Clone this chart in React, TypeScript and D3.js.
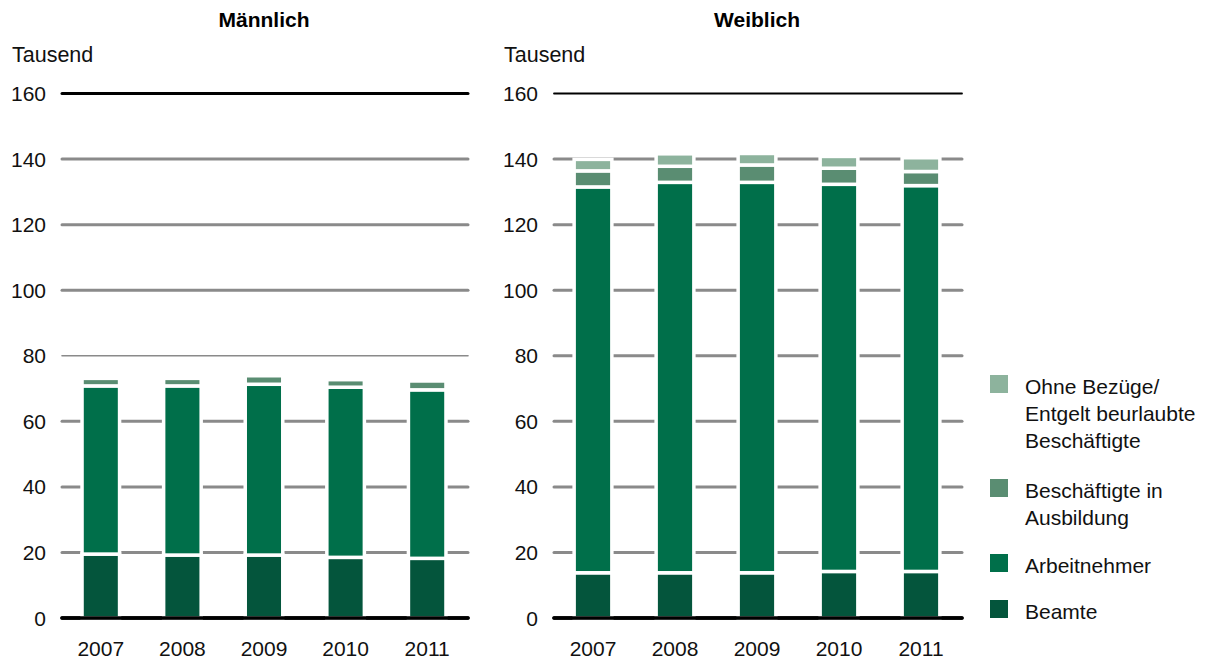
import React from "react";
import * as d3 from "d3";

const years = ["2007", "2008", "2009", "2010", "2011"];
const seriesKeys = ["beamte", "arbeitnehmer", "ausbildung", "ohne"];
const seriesColors = ["#04553c", "#006f4a", "#5a8d72", "#8db39d"];
const legendLabels = [
  ["Ohne Bezüge/", "Entgelt beurlaubte", "Beschäftigte"],
  ["Beschäftigte in", "Ausbildung"],
  ["Arbeitnehmer"],
  ["Beamte"],
];
const legendColors = ["#8db39d", "#5a8d72", "#006f4a", "#04553c"];

const maleBeamte = [19.5, 19.2, 19.2, 18.5, 18.2];
const maleArbeitnehmer = [51.3, 51.6, 52.1, 51.9, 51.4];
const maleAusbildung = [2.3, 2.3, 2.6, 2.3, 2.7];
const maleOhne = [0, 0, 0, 0, 0];

const femaleBeamte = [13.8, 13.8, 13.8, 14.2, 14.2];
const femaleArbeitnehmer = [117.7, 119.1, 119.1, 118.1, 117.7];
const femaleAusbildung = [4.9, 4.9, 5.3, 4.9, 4.3];
const femaleOhne = [3.5, 3.8, 3.5, 3.6, 4.2];

const yTicks = [0, 20, 40, 60, 80, 100, 120, 140, 160];

const FONT = "'Liberation Sans', Arial, sans-serif";

type PanelProps = {
  title: string;
  x0: number;
  x1: number;
  labelX: number;
  data: number[][];
  lineStyle: (v: number) => { stroke: string; width: number };
};

function Panel({ title, x0, x1, labelX, data, lineStyle }: PanelProps) {
  const y = d3.scaleLinear().domain([0, 160]).range([618, 93.5]);
  const x = d3.scaleBand<string>().domain(years).range([x0, x1]).paddingInner(0.54).paddingOuter(0.27);
  const rows = years.map((yr, i) => {
    const r: any = { year: yr };
    seriesKeys.forEach((k, j) => (r[k] = data[j][i]));
    return r;
  });
  const stacked = d3.stack<any>().keys(seriesKeys)(rows);
  return (
    <g>
      <text x={(x0 + x1) / 2} y={27} textAnchor="middle" fontWeight="bold" fontSize={21} fontFamily={FONT}>
        {title}
      </text>
      <text x={labelX - 34} y={62} fontSize={21.5} fontFamily={FONT} fill="#111">
        Tausend
      </text>
      {yTicks.map((t) => {
        const s = lineStyle(t);
        return (
          <g key={t}>
            <line x1={x0 + 2} x2={x1} y1={y(t)} y2={y(t)} stroke={s.stroke} strokeWidth={s.width} strokeLinecap="round" />
            <text x={labelX} y={y(t)} dy="0.36em" textAnchor="end" fontSize={21} fontFamily={FONT} fill="#111">
              {t}
            </text>
          </g>
        );
      })}
      {stacked.map((layer, j) => (
        <g key={layer.key} fill={seriesColors[j]}>
          {layer.map((d, i) =>
            d[1] - d[0] > 0 ? (
              <rect
                key={i}
                x={x(years[i])!}
                width={x.bandwidth()}
                y={y(d[1])}
                height={y(d[0]) - y(d[1])}
                stroke="#fff"
                strokeWidth={3.5}
              />
            ) : null
          )}
        </g>
      ))}
      <line x1={x0 + 2} x2={x1} y1={y(0)} y2={y(0)} stroke="#000" strokeWidth={3.5} strokeLinecap="round" />
      {years.map((yr) => (
        <text key={yr} x={x(yr)! + x.bandwidth() / 2} y={656} textAnchor="middle" fontSize={21} fontFamily={FONT} fill="#111">
          {yr}
        </text>
      ))}
    </g>
  );
}

export default function App() {
  const legendY = [386, 490, 565, 611];
  return (
    <svg width={1206} height={661} style={{ position: "absolute", left: 0, top: 0, background: "#fff" }}>
      <Panel
        title="Männlich"
        x0={60}
        x1={468}
        labelX={46}
        data={[maleBeamte, maleArbeitnehmer, maleAusbildung, maleOhne]}
        lineStyle={(v) =>
          v === 160 ? { stroke: "#000", width: 3 } : v === 0 ? { stroke: "#000", width: 3.5 } : v === 80 ? { stroke: "#8a8a8a", width: 1.6 } : { stroke: "#8a8a8a", width: 3 }
        }
      />
      <Panel
        title="Weiblich"
        x0={552}
        x1={962}
        labelX={538}
        data={[femaleBeamte, femaleArbeitnehmer, femaleAusbildung, femaleOhne]}
        lineStyle={(v) =>
          v === 160 ? { stroke: "#000", width: 1.8 } : v === 0 ? { stroke: "#000", width: 3.5 } : { stroke: "#8a8a8a", width: 3 }
        }
      />
      {legendLabels.map((lines, i) => (
        <g key={i}>
          <rect x={990} y={legendY[i] - 11} width={18} height={18} fill={legendColors[i]} />
          {lines.map((l, k) => (
            <text key={k} x={1025} y={legendY[i] + k * 27} dy="0.36em" fontSize={21} fontFamily={FONT} fill="#111">
              {l}
            </text>
          ))}
        </g>
      ))}
    </svg>
  );
}
